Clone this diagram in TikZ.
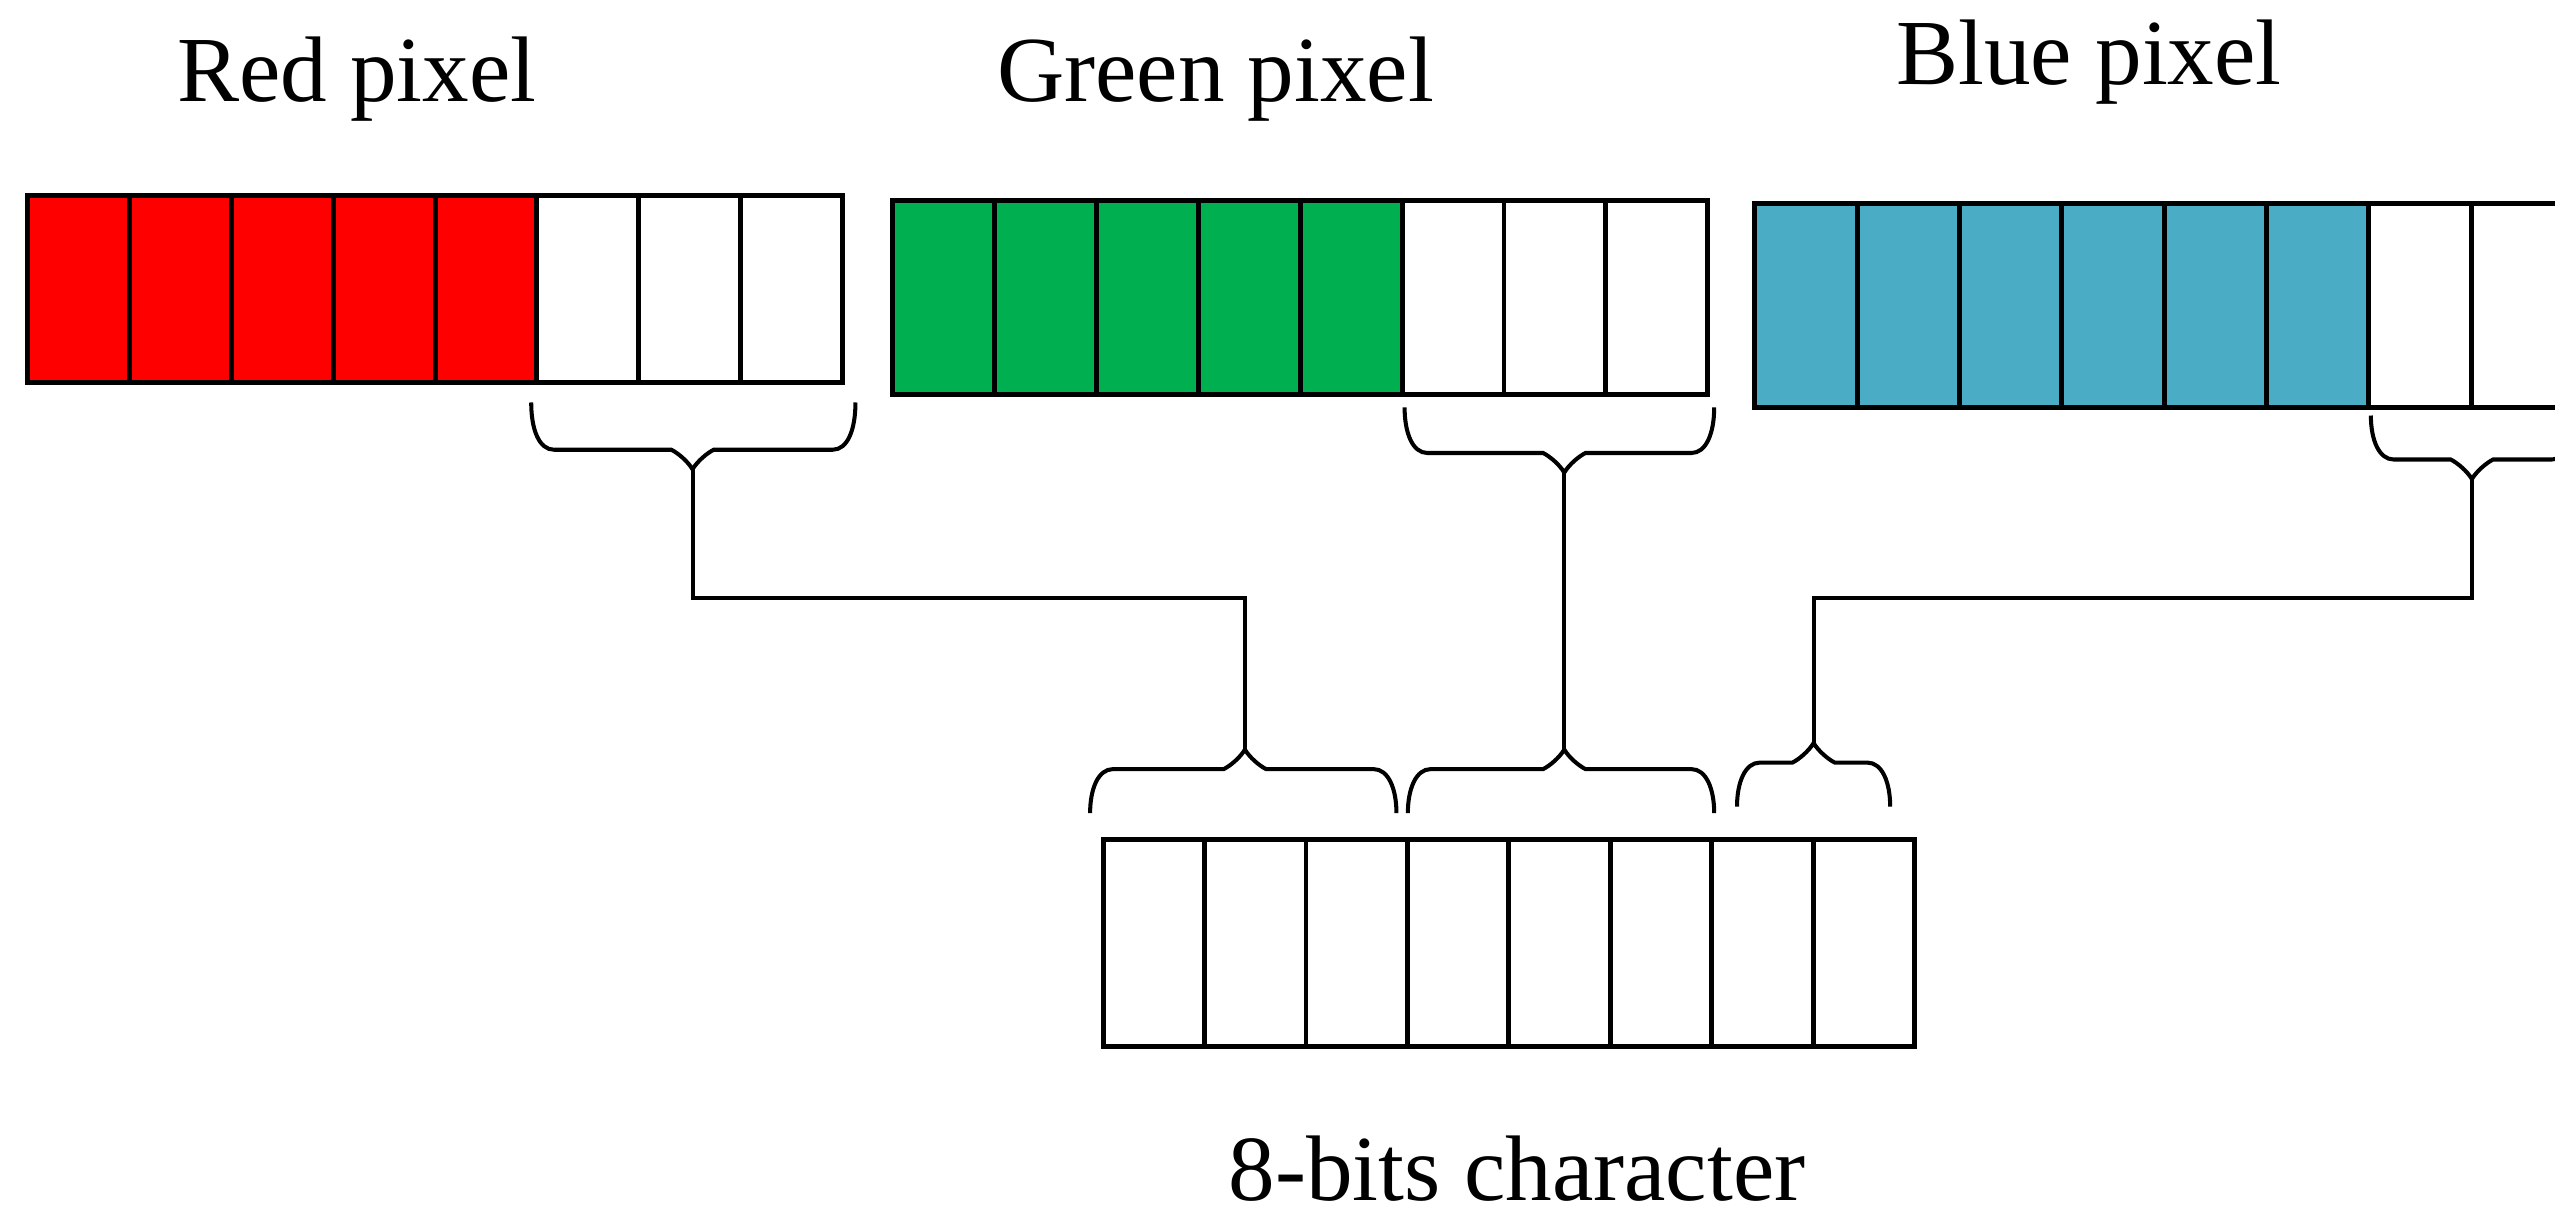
\documentclass[tikz,border=0pt]{standalone}
\usepackage{fontspec}
\setmainfont{Liberation Serif}
\definecolor{pxred}{HTML}{FF0000}
\definecolor{pxgreen}{HTML}{00B050}
\definecolor{pxblue}{HTML}{4BACC6}
\newcommand\bracepath[6]{% x1, x2, xc, yend, ymid, dir (+1 tip down, -1 tip up)
  \draw[bracestyle] ({#1},{#4}) .. controls ({#1},{#5-(#6)*12}) and ({#1+5},{#5}) .. ({#1+14},{#5})
    -- ({#3-13},{#5}) .. controls ({#3-9},{#5+(#6)*2}) and ({#3-3},{#5+(#6)*7}) .. ({#3},{#5+(#6)*12})
    .. controls ({#3+3},{#5+(#6)*7}) and ({#3+9},{#5+(#6)*2}) .. ({#3+13},{#5})
    -- ({#2-14},{#5}) .. controls ({#2-5},{#5}) and ({#2},{#5-(#6)*12}) .. ({#2},{#4});
}
\begin{document}
\begin{tikzpicture}[x=0.016295cm, y=-0.016295cm,
  cell/.style={draw=black, line width=1.4pt, inner sep=0pt, outer sep=0pt},
  bracestyle/.style={draw=black, line width=1.15pt, line join=miter},
  link/.style={draw=black, line width=1.15pt},
  lbl/.style={font=\fontsize{26.5}{30}\selectfont, anchor=base, inner sep=0pt}]
\clip (0,0) rectangle (1568,748);
\fill[white] (0,0) rectangle (1568,748);
% Red pixel
\foreach \i in {0,...,7} {
  \pgfmathsetmacro\cx{17+62.5*\i+31.25}
  \pgfmathtruncatemacro\isfill{\i<5 ? 1 : 0}
  \ifnum\isfill=1
    \node[cell, fill=pxred, minimum width=62.5*0.016295cm, minimum height=115*0.016295cm] (r\i) at (\cx,177.5) {};
  \else
    \node[cell, fill=white, minimum width=62.5*0.016295cm, minimum height=115*0.016295cm] (r\i) at (\cx,177.5) {};
  \fi
}
% Green pixel
\foreach \i in {0,...,7} {
  \pgfmathsetmacro\cx{548+62.5*\i+31.25}
  \pgfmathtruncatemacro\isfill{\i<5 ? 1 : 0}
  \ifnum\isfill=1
    \node[cell, fill=pxgreen, minimum width=62.5*0.016295cm, minimum height=119*0.016295cm] (g\i) at (\cx,182.5) {};
  \else
    \node[cell, fill=white, minimum width=62.5*0.016295cm, minimum height=119*0.016295cm] (g\i) at (\cx,182.5) {};
  \fi
}
% Blue pixel
\foreach \i in {0,...,7} {
  \pgfmathsetmacro\cx{1077+62.8*\i+31.4}
  \pgfmathtruncatemacro\isfill{\i<6 ? 1 : 0}
  \ifnum\isfill=1
    \node[cell, fill=pxblue, minimum width=62.8*0.016295cm, minimum height=125*0.016295cm] (b\i) at (\cx,187.5) {};
  \else
    \node[cell, fill=white, minimum width=62.8*0.016295cm, minimum height=125*0.016295cm] (b\i) at (\cx,187.5) {};
  \fi
}
% 8-bit character
\foreach \i in {0,...,7} {
  \pgfmathsetmacro\cx{677+62.25*\i+31.125}
  \node[cell, fill=white, minimum width=62.25*0.016295cm, minimum height=127*0.016295cm] (c\i) at (\cx,578.5) {};
}
% labels
\node[lbl] (lr) at (219,62) {Red pixel};
\node[lbl] (lg) at (746,62) {Green pixel};
\node[lbl] (lb) at (1282,52) {Blue pixel};
\node[lbl] (lc) at (931,737) {8-bits character};
% braces
\bracepath{326}{525}{425}{247}{276}{1}
\bracepath{862}{1052}{960}{250}{278}{1}
\bracepath{1455}{1580}{1517}{255}{282}{1}
\bracepath{669}{857}{764}{499}{472}{-1}
\bracepath{864}{1052}{960}{499}{472}{-1}
\bracepath{1066}{1160}{1113}{495}{468}{-1}
% brace tips
\coordinate (rt) at (425,288);
\coordinate (gt) at (960,290);
\coordinate (bt) at (1517,294);
\coordinate (lt1) at (764,460);
\coordinate (lt2) at (960,460);
\coordinate (lt3) at (1113,456);
\coordinate (bus) at (0,367);
% connectors
\draw[link] (rt) -- (rt |- bus) -| (lt1);
\draw[link] (gt) -- (lt2);
\draw[link] (bt) -- (bt |- bus) -| (lt3);
\end{tikzpicture}
\end{document}
